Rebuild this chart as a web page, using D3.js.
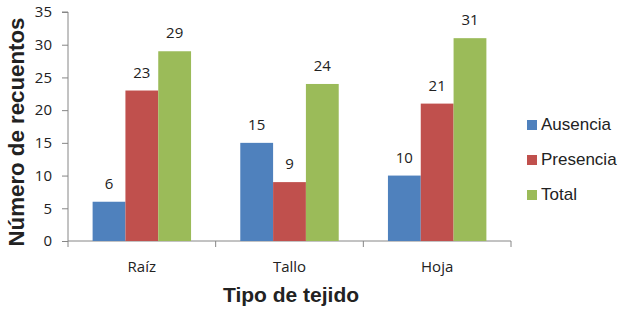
<!DOCTYPE html>
<html>
<head>
<meta charset="utf-8">
<script src="https://cdn.jsdelivr.net/npm/d3@7"></script>
<style>
  body { margin: 0; background: #fff; }
  svg text { fill: #222; }
</style>
</head>
<body>
<svg id="chart" width="636" height="318"></svg>
<script>
const categories = ['Raíz', 'Tallo', 'Hoja']
const seriesNames = ['Ausencia', 'Presencia', 'Total']
const ausencia = [6, 15, 10]
const presencia = [23, 9, 21]
const total = [29, 24, 31]
const yTicks = [0, 5, 10, 15, 20, 25, 30, 35]

const colors = ['#4F81BD', '#C0504D', '#9BBB59']
const series = [ausencia, presencia, total]

const svg = d3.select('#chart')
const plotLeft = 68, plotRight = 511, plotTop = 12, plotBottom = 241

const x0 = d3.scaleBand().domain(categories).range([plotLeft, plotRight]).paddingInner(0).paddingOuter(0)
// Excel style gap: 150% of a bar width between clusters
const x1 = d3.scaleBand().domain(seriesNames).range([0, x0.bandwidth()]).paddingInner(0).paddingOuter(0.75)
const y = d3.scaleLinear().domain([0, 35]).range([plotBottom, plotTop])

const tickFont = '"Open Sans", Lato, sans-serif'
const titleFont = '"Liberation Sans", Arial, sans-serif'

// y axis
const yAxis = svg.append('g').attr('transform', `translate(${plotLeft},0)`)
    .call(d3.axisLeft(y).tickValues(yTicks).tickSize(6).tickPadding(10))
yAxis.selectAll('path, line').attr('stroke', '#868686')
yAxis.select('path').attr('d', `M-6,${plotTop}H0V${plotBottom}`)
yAxis.selectAll('text').style('font-family', tickFont).style('font-size', '15px').attr('fill', '#222')

// x axis with boundary ticks
svg.append('line').attr('x1', plotLeft).attr('x2', plotRight).attr('y1', plotBottom).attr('y2', plotBottom).attr('stroke', '#868686')
const bounds = categories.map(c => x0(c)).concat([plotRight])
svg.selectAll('line.xtick').data(bounds).enter().append('line')
    .attr('class', 'xtick')
    .attr('x1', d => d).attr('x2', d => d)
    .attr('y1', plotBottom).attr('y2', plotBottom + 6)
    .attr('stroke', '#868686')
svg.selectAll('text.xlab').data(categories).enter().append('text')
    .attr('class', 'xlab')
    .attr('x', d => x0(d) + x0.bandwidth() / 2)
    .attr('y', 272)
    .attr('text-anchor', 'middle')
    .style('font-family', tickFont).style('font-size', '15px')
    .text(d => d)

// bars
series.forEach((vals, si) => {
    const g = svg.append('g')
    g.selectAll('rect').data(vals).enter().append('rect')
        .attr('x', (d, i) => x0(categories[i]) + x1(seriesNames[si]))
        .attr('width', x1.bandwidth())
        .attr('y', d => y(d))
        .attr('height', d => y(0) - y(d))
        .attr('fill', colors[si])
    g.selectAll('text').data(vals).enter().append('text')
        .attr('x', (d, i) => x0(categories[i]) + x1(seriesNames[si]) + x1.bandwidth() / 2)
        .attr('y', d => y(d) - 13)
        .attr('text-anchor', 'middle')
        .style('font-family', tickFont).style('font-size', '15px')
        .text(d => d)
})

// axis titles
svg.append('text')
    .attr('transform', `translate(24,132) rotate(-90)`)
    .attr('text-anchor', 'middle')
    .attr('textLength', 229).attr('lengthAdjust', 'spacingAndGlyphs')
    .style('font-family', titleFont)
    .style('font-size', '22px').style('font-weight', 'bold')
    .text('Número de recuentos')
svg.append('text')
    .attr('x', 291).attr('y', 302)
    .attr('text-anchor', 'middle')
    .style('font-family', titleFont)
    .style('font-size', '21px').style('font-weight', 'bold')
    .text('Tipo de tejido')

// legend
const legend = svg.append('g')
seriesNames.forEach((name, i) => {
    const ly = 130 + i * 35
    legend.append('rect').attr('x', 527).attr('y', ly - 10).attr('width', 10).attr('height', 10).attr('fill', colors[i])
    legend.append('text').attr('x', 541).attr('y', ly)
        .style('font-family', titleFont)
        .style('font-size', '17px')
        .text(name)
})
</script>
</body>
</html>
